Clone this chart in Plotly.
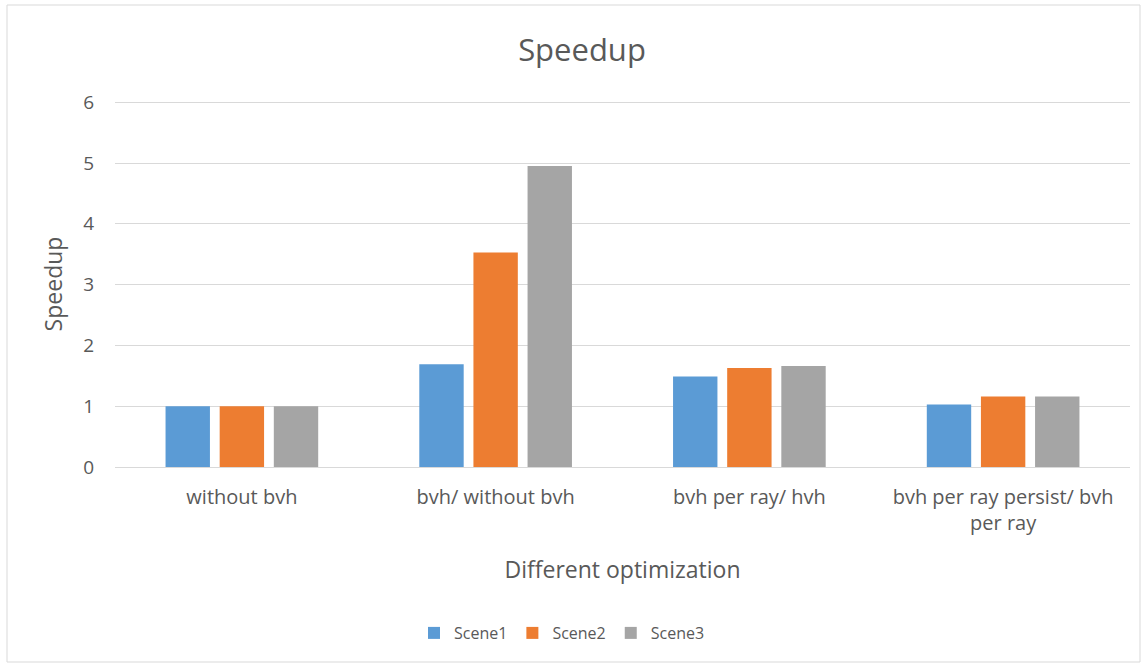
import plotly.graph_objects as go

categories = ["without bvh", "bvh/ without bvh", "bvh per ray/ hvh",
              "bvh per ray persist/ bvh<br>per ray"]
scene1 = [1.0, 1.69, 1.49, 1.03]
scene2 = [1.0, 3.53, 1.63, 1.16]
scene3 = [1.0, 4.95, 1.66, 1.16]
y_ticks = [0, 1, 2, 3, 4, 5, 6]

colors = {"Scene1": "#5b9bd5", "Scene2": "#ed7d31", "Scene3": "#a5a5a5"}
text_color = "#595959"
font_family = "Open Sans, Liberation Sans, sans-serif"

fig = go.Figure()
for name, vals in [("Scene1", scene1), ("Scene2", scene2), ("Scene3", scene3)]:
    fig.add_trace(go.Bar(x=categories, y=vals, name=name,
                         marker=dict(color=colors[name], line=dict(width=0))))

W, H = 1148, 670
ml, mr, mt, mb = 115, 18, 101, 203
pw, ph = W - ml - mr, H - mt - mb

def px_x(x):
    return (x - ml) / pw

def px_y(y):
    return (H - mb - y) / ph

fig.update_layout(
    width=W, height=H,
    margin=dict(l=ml, r=mr, t=mt, b=mb),
    paper_bgcolor="white", plot_bgcolor="white",
    barmode="group", bargap=0.36, bargroupgap=0.18,
    font=dict(family=font_family, color=text_color, size=16),
    title=dict(text="Speedup", x=582 / W, xanchor="center", xref="container",
               y=1 - 50 / H, yanchor="middle",
               font=dict(size=31, color=text_color, family=font_family)),
    xaxis=dict(title=dict(text="Different optimization", standoff=26,
                          font=dict(size=23, color=text_color)),
               showgrid=False, showline=True, linecolor="#d9d9d9", linewidth=1,
               ticks="", ticklabelstandoff=12,
               tickfont=dict(size=20, color=text_color)),
    yaxis=dict(title=dict(text="Speedup", standoff=14,
                          font=dict(size=23, color=text_color)),
               range=[0, 6.02], tickvals=y_ticks, showgrid=True,
               gridcolor="#d9d9d9", gridwidth=1, zeroline=False,
               ticks="", ticklabelstandoff=20,
               tickfont=dict(size=19, color=text_color)),
    legend=dict(orientation="h", x=px_x(562), xanchor="center",
                y=px_y(633), yanchor="middle",
                font=dict(size=16, color=text_color),
                itemwidth=30, traceorder="normal"),
    shapes=[dict(type="rect", xref="paper", yref="paper",
                 x0=px_x(7), x1=px_x(1140), y0=px_y(662), y1=px_y(5),
                 line=dict(color="#d9d9d9", width=1), layer="below")],
)

fig.write_html("out.html")
